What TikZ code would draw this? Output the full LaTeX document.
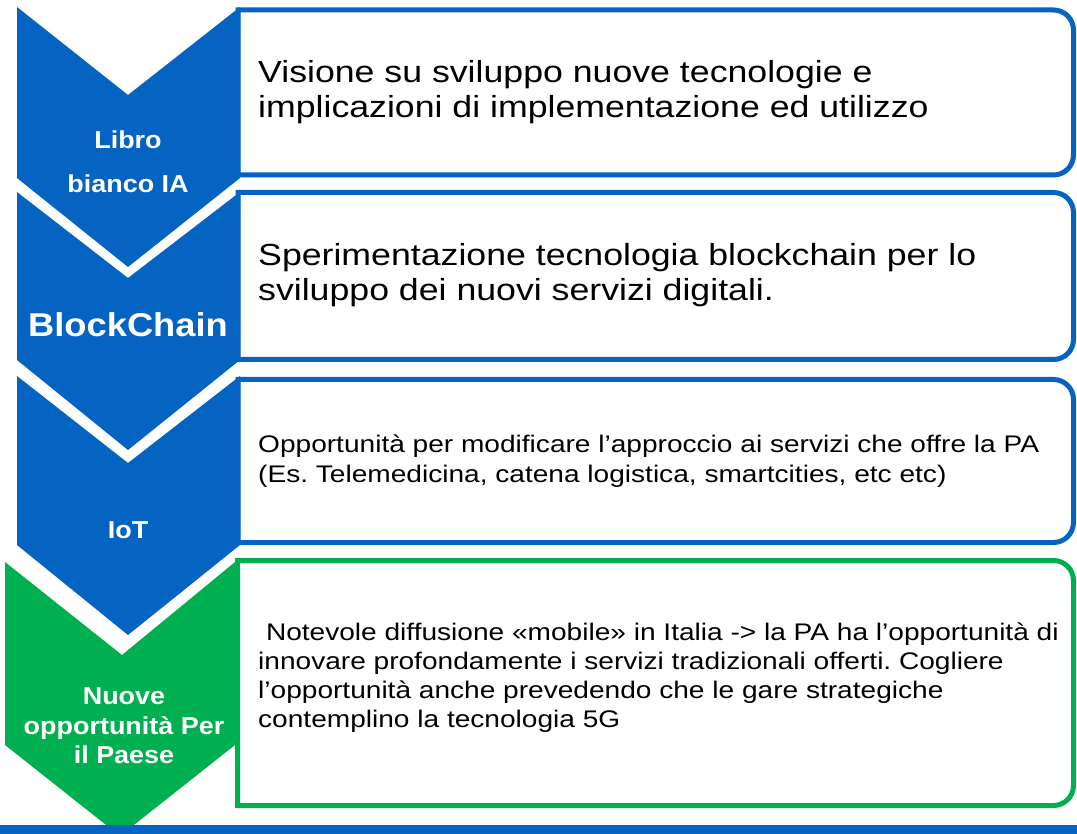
\documentclass[tikz,border=0pt]{standalone}
\usepackage{fontspec}
\setmainfont{Liberation Sans}[FakeStretch=1.17]
\newfontfamily\labelfont{Liberation Sans}[FakeStretch=1.1]
\usetikzlibrary{calc}
\definecolor{ablue}{RGB}{5,99,193}
\definecolor{agreen}{RGB}{0,176,80}
\frenchspacing

\begin{document}
\begin{tikzpicture}[x=1pt,y=-1pt,
	box/.style={draw=#1,line width=5pt,fill=white},
	chevtext/.style={text=white,align=center,inner sep=0pt,font=\labelfont\bfseries\fontsize{24.5}{44}\selectfont},
	bigtext/.style={anchor=base west,align=left,inner sep=0pt,font=\fontsize{30.5}{35.5}\selectfont},
	smalltext/.style={anchor=base west,align=left,inner sep=0pt,font=\fontsize{24}{29}\selectfont}]
	\useasboundingbox (0,0) rectangle (1077,834);

	% boxes on the right
	\draw[box=ablue] (238,175) -- (238,10) -- (1053.5,10) arc[start angle=-90,end angle=0,radius=20] -- (1073.5,155) arc[start angle=0,end angle=90,radius=20] -- cycle;
	\draw[box=ablue] (238,359.5) -- (238,192.5) -- (1053.5,192.5) arc[start angle=-90,end angle=0,radius=20] -- (1073.5,339.5) arc[start angle=0,end angle=90,radius=20] -- cycle;
	\draw[box=ablue] (238,542.5) -- (238,379.5) -- (1053.5,379.5) arc[start angle=-90,end angle=0,radius=20] -- (1073.5,522.5) arc[start angle=0,end angle=90,radius=20] -- cycle;
	\draw[box=agreen] (237.5,805.5) -- (237.5,560.5) -- (1053.5,560.5) arc[start angle=-90,end angle=0,radius=20] -- (1073.5,785.5) arc[start angle=0,end angle=90,radius=20] -- cycle;

	% chevrons
	\fill[ablue] (17,7) -- (128,95) -- (240,7) -- (240,178) -- (128,267) -- (17,178) -- cycle;
	\fill[ablue] (17,192) -- (128,278) -- (240,192) -- (240,360) -- (128,450) -- (17,360) -- cycle;
	\fill[ablue] (17,376) -- (128,463) -- (240,376) -- (240,545) -- (128,635) -- (17,545) -- cycle;
	\fill[agreen] (5,562) -- (122,655) -- (235,562) -- (235,745) -- (120,836) -- (5,745) -- cycle;
	\fill[ablue] (0,825) rectangle (1077,834);

	\node[chevtext] (libro) at (128,162) {Libro\\bianco IA};
	\node[chevtext,font=\labelfont\bfseries\fontsize{33}{40}\selectfont] (chain) at (128,325) {BlockChain};
	\node[chevtext] (iot) at (128,530) {IoT};
	\node[chevtext,font=\labelfont\bfseries\fontsize{24.5}{29.5}\selectfont] (paese) at (124,726) {Nuove\\opportunità Per\\il Paese};

	\node[bigtext] (vision) at (258,118) {Visione su sviluppo nuove tecnologie e\\implicazioni di implementazione ed utilizzo};
	\node[bigtext] (speri) at (258,301) {Sperimentazione tecnologia blockchain per lo\\sviluppo dei nuovi servizi digitali.};
	\node[smalltext] (oppo) at (258,482) {Opportunità per modificare l’approccio ai servizi che offre la PA\\(Es. Telemedicina, catena logistica, smartcities, etc etc)};
	\node[smalltext] (mobile) at (258,727) {\ Notevole diffusione «mobile» in Italia -> la PA ha l’opportunità di\\innovare profondamente i servizi tradizionali offerti. Cogliere\\l’opportunità anche prevedendo che le gare strategiche\\contemplino la tecnologia 5G};
\end{tikzpicture}
\end{document}
